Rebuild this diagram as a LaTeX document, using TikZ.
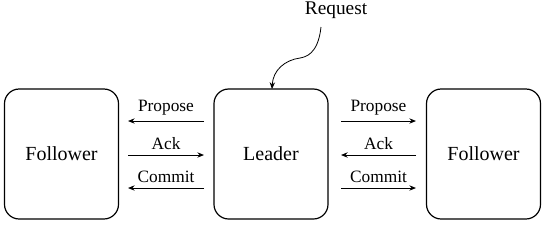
\documentclass[tikz,border=0pt]{standalone}
\usepackage{fontspec}
\newfontfamily\tnr{LiberationSerif-Regular.ttf}
\usetikzlibrary{arrows.meta}
\begin{document}
\begin{tikzpicture}[x=0.75pt,y=-0.75pt,
  box/.style={draw,line width=0.9pt,rounded corners=11pt,minimum width=114*0.75pt,minimum height=130*0.75pt,inner sep=0pt,font=\tnr\fontsize{15}{18}\selectfont},
  msg/.style={-{Stealth[length=5pt,width=4pt]},line width=0.7pt},
  lbl/.style={font=\tnr\fontsize{13}{15}\selectfont,inner sep=0pt}]
\useasboundingbox (0,0) rectangle (546,226);
\node[box] (f1) at (61.5,154) {Follower};
\node[box] (ld) at (271,154) {Leader};
\node[box] (f2) at (483.5,154) {Follower};
\coordinate (a1s) at (204,121); \coordinate (a1e) at (128,121);
\coordinate (a2s) at (128,155); \coordinate (a2e) at (204,155);
\coordinate (a3s) at (204,188); \coordinate (a3e) at (128,188);
\coordinate (b1s) at (341,121); \coordinate (b1e) at (416,121);
\coordinate (b2s) at (416,155); \coordinate (b2e) at (341,155);
\coordinate (b3s) at (341,188); \coordinate (b3e) at (416,188);
\draw[msg] (a1s) -- (a1e) node[lbl,midway,above=4pt] (p1) {Propose};
\draw[msg] (a2s) -- (a2e) node[lbl,midway,above=4pt] (k1) {Ack};
\draw[msg] (a3s) -- (a3e) node[lbl,midway,above=4pt] (c1) {Commit};
\draw[msg] (b1s) -- (b1e) node[lbl,midway,above=4pt] (p2) {Propose};
\draw[msg] (b2s) -- (b2e) node[lbl,midway,above=4pt] (k2) {Ack};
\draw[msg] (b3s) -- (b3e) node[lbl,midway,above=4pt] (c2) {Commit};
\node[font=\tnr\fontsize{14.5}{17}\selectfont,inner sep=0pt] (rq) at (336,10) {Request};
\coordinate (rqs) at (321,27);
\coordinate (rqe) at (272,89);
\draw[msg,line width=0.6pt] (rqs) .. controls (318,55) and (305,57) .. (300,58) .. controls (285,60) and (273,70) .. (rqe);
\end{tikzpicture}
\end{document}
